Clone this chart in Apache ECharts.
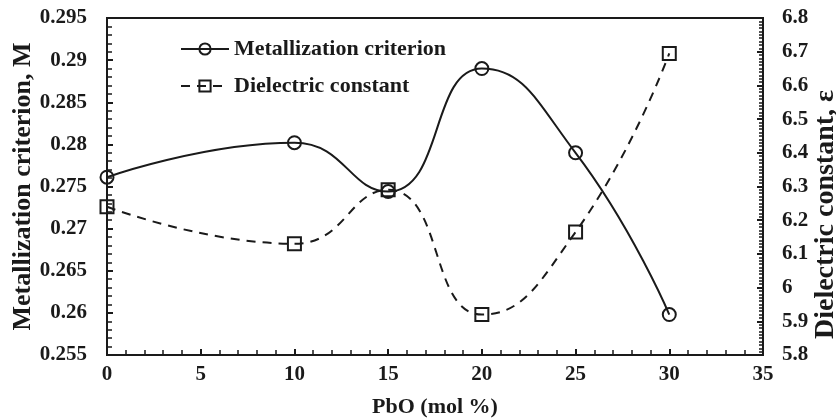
<!DOCTYPE html>
<html>
<head>
<meta charset="utf-8">
<script src="https://cdn.jsdelivr.net/npm/echarts@6/dist/echarts.min.js"></script>
<style>
html,body{margin:0;padding:0;background:#fff;}
#canvas{width:836px;height:418px;}
</style>
</head>
<body>
<div id="canvas"></div>
<script>
var pbo = [0, 10, 15, 20, 25, 30];
var metallization = [0.2761, 0.2802, 0.2744, 0.2890, 0.2790, 0.2598];
var dielectric = [6.24, 6.13, 6.29, 5.92, 6.165, 6.695];
var seriesNames = ['Metallization criterion', 'Dielectric constant'];

function pairs(xs, ys){
	var out = [];
	for (var i = 0; i < xs.length; i++) out.push([xs[i], ys[i]]);
	return out;
}

var font = 'Liberation Serif';
function txt(size){
	return {fontFamily: font, fontWeight: 'bold', fontSize: size, color: '#1a1a1a'};
}

var myChart = echarts.init(document.getElementById('canvas'));
var option = {
	animation: false,
	textStyle: {fontFamily: font},
	grid: {
		left: 107, right: 73, top: 18, bottom: 63,
		outerBoundsMode: 'none', containLabel: false,
		show: true, borderColor: '#1a1a1a', borderWidth: 2
	},
	legend: {
		data: seriesNames,
		orient: 'vertical',
		left: 175, top: 33,
		itemWidth: 48, itemHeight: 14, itemGap: 15,
		textStyle: txt(22)
	},
	xAxis: {
		type: 'value', min: 0, max: 35, interval: 5,
		name: 'PbO (mol %)', nameLocation: 'middle', nameGap: 41, nameMoveOverlap: false,
		nameTextStyle: txt(22),
		axisLine: {lineStyle: {color: '#1a1a1a', width: 2}},
		axisTick: {inside: true, length: 6, lineStyle: {width: 2}},
		minorTick: {show: true, splitNumber: 5, length: 5, lineStyle: {color: '#1a1a1a', width: 1.5}},
		splitLine: {show: false},
		axisLabel: Object.assign({margin: 9}, txt(21))
	},
	yAxis: [{
		type: 'value', min: 0.255, max: 0.295, interval: 0.005,
		name: 'Metallization criterion, M', nameLocation: 'middle', nameGap: 71, nameRotate: 90,
		nameMoveOverlap: false,
		nameTextStyle: txt(26),
		axisLine: {show: true, lineStyle: {color: '#1a1a1a', width: 2}},
		axisTick: {inside: true, length: 6, lineStyle: {width: 2}},
		minorTick: {show: true, splitNumber: 5, length: 5, lineStyle: {color: '#1a1a1a', width: 1.5}},
		splitLine: {show: false},
		axisLabel: Object.assign({margin: 20, formatter: function(v){ return String(+v.toFixed(3)); }}, txt(21))
	}, {
		type: 'value', min: 5.8, max: 6.8, interval: 0.1, position: 'right',
		name: 'Dielectric constant, \u03b5', nameLocation: 'middle', nameGap: 49, nameRotate: 90,
		nameMoveOverlap: false,
		nameTextStyle: Object.assign({padding: [0, 56, 0, 0]}, txt(28)),
		axisLine: {show: true, lineStyle: {color: '#1a1a1a', width: 2}},
		axisTick: {inside: true, length: 6, lineStyle: {width: 2}},
		minorTick: {show: true, splitNumber: 10, length: 4, lineStyle: {color: '#1a1a1a', width: 1.5}},
		splitLine: {show: false},
		axisLabel: Object.assign({margin: 19, formatter: function(v){ return String(+v.toFixed(1)); }}, txt(21))
	}],
	series: [{
		name: seriesNames[0],
		type: 'line',
		yAxisIndex: 0,
		smooth: 0.5,
		symbol: 'circle', symbolSize: 13,
		lineStyle: {color: '#1a1a1a', width: 2},
		itemStyle: {color: 'rgba(255,255,255,0)', borderColor: '#1a1a1a', borderWidth: 2},
		data: pairs(pbo, metallization)
	}, {
		name: seriesNames[1],
		type: 'line',
		yAxisIndex: 1,
		smooth: 0.5,
		symbol: 'rect', symbolSize: 13,
		lineStyle: {color: '#1a1a1a', width: 2, type: [9, 7]},
		itemStyle: {color: 'rgba(255,255,255,0)', borderColor: '#1a1a1a', borderWidth: 2},
		data: pairs(pbo, dielectric)
	}]
};
myChart.setOption(option);
</script>
</body>
</html>
